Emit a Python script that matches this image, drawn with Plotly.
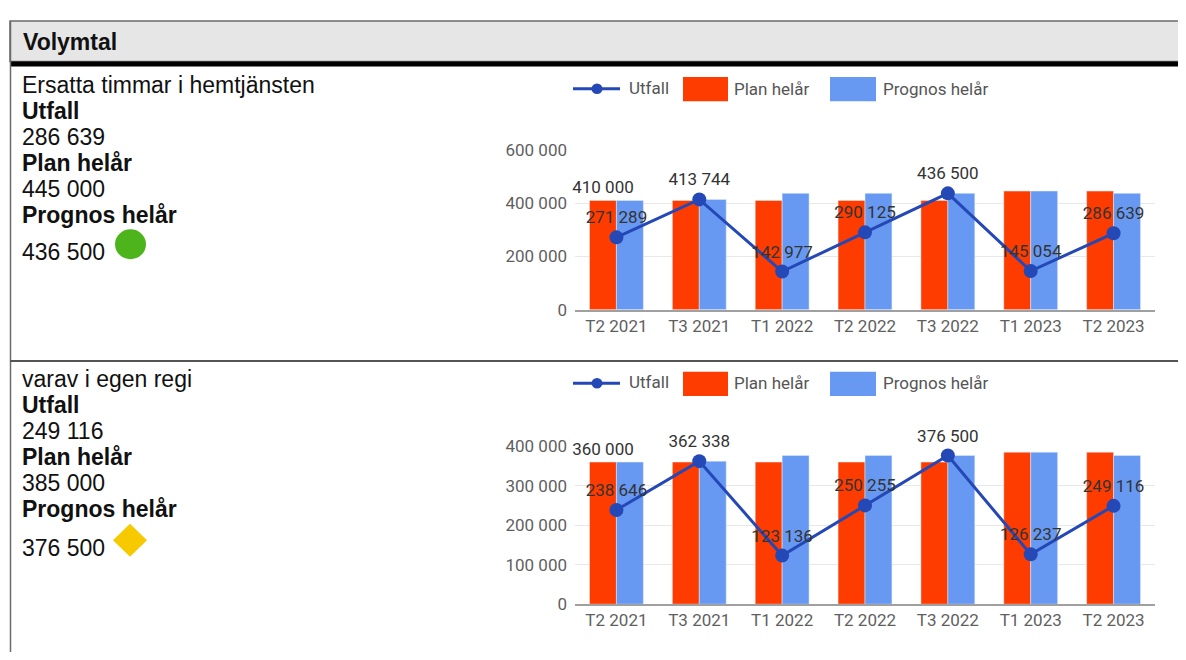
import plotly.graph_objects as go

# Page is 1186x660; the HTML body has an 8px default margin, so the figure is
# sized to fit inside the window (no scrollbars) and all layout positions are
# given in page pixels.
PAGE_W, PAGE_H = 1186, 660
OFF = 8
FW, FH = PAGE_W - OFF, PAGE_H - 2 * OFF

categories = ["T2 2021", "T3 2021", "T1 2022", "T2 2022", "T3 2022", "T1 2023", "T2 2023"]

# Chart 1: Ersatta timmar i hemtjänsten
utfall_1 = [271289, 413744, 142977, 290125, 436500, 145054, 286639]
plan_1 = [410000, 410000, 410000, 410000, 410000, 445000, 445000]
prognos_1 = [410000, 413744, 436500, 436500, 436500, 445000, 436500]

# Chart 2: varav i egen regi
utfall_2 = [238646, 362338, 123136, 250255, 376500, 126237, 249116]
plan_2 = [360000, 360000, 360000, 360000, 360000, 385000, 385000]
prognos_2 = [360000, 362338, 376500, 376500, 376500, 385000, 376500]

series_names = ["Utfall", "Plan helår", "Prognos helår"]

RED = "#ff3c00"
BLUE = "#6799f3"
LINE = "#2448b5"


def fmt(v):
    return f"{v:,}".replace(",", " ")


def px(x):
    return (x - OFF) / FW


def py(y):
    return 1 - (y - OFF) / FH


fig = go.Figure()

panels = [
    dict(utfall=utfall_1, plan=plan_1, prognos=prognos_1, xa="x", ya="y"),
    dict(utfall=utfall_2, plan=plan_2, prognos=prognos_2, xa="x2", ya="y2"),
]

label_font = dict(family="Roboto", size=17, color="#333333")

for p in panels:
    plan_text = [fmt(p["plan"][0])] + [""] * (len(categories) - 1)
    fig.add_trace(go.Bar(
        x=categories, y=p["plan"], name=series_names[1], marker_color=RED,
        text=plan_text, textposition="outside", constraintext="none", cliponaxis=False,
        textfont=label_font,
        xaxis=p["xa"], yaxis=p["ya"], showlegend=False, hoverinfo="skip"))
    fig.add_trace(go.Bar(
        x=categories, y=p["prognos"], name=series_names[2], marker_color=BLUE,
        xaxis=p["xa"], yaxis=p["ya"], showlegend=False))
    fig.add_trace(go.Scatter(
        x=categories, y=p["utfall"], name=series_names[0], mode="lines+markers+text",
        line=dict(color=LINE, width=3), marker=dict(color=LINE, size=14),
        text=[fmt(v) for v in p["utfall"]], textposition="top center",
        textfont=label_font, cliponaxis=False,
        xaxis=p["xa"], yaxis=p["ya"], showlegend=False))

axis_font = dict(family="Roboto", size=17, color="#5f5f5f")
xdom = [px(575), px(1155)]
fig.update_layout(
    width=FW, height=FH, margin=dict(l=0, r=0, t=0, b=0),
    paper_bgcolor="white", plot_bgcolor="white",
    separators=", ", barmode="group", bargap=0.35, bargroupgap=0,
    xaxis=dict(domain=xdom, anchor="y", tickfont=axis_font, showline=True,
               linecolor="#a0a0a0", linewidth=1.5, ticks="", showgrid=False),
    yaxis=dict(domain=[py(309), py(144)], anchor="x", range=[0, 600000], dtick=200000,
               tickformat=",d", tickfont=axis_font, gridcolor="#e8e8e8", zeroline=False,
               ticklabelstandoff=7),
    xaxis2=dict(domain=xdom, anchor="y2", tickfont=axis_font, showline=True,
                linecolor="#a0a0a0", linewidth=1.5, ticks="", showgrid=False),
    yaxis2=dict(domain=[py(613), py(450)], anchor="x2", range=[0, 400000], dtick=100000,
                tickformat=",d", tickfont=axis_font, gridcolor="#e8e8e8", zeroline=False,
                ticklabelstandoff=7),
)

shapes = []
annotations = []
text_font = dict(family="Liberation Sans", size=23, color="#111111")

# Frame and header
shapes.append(dict(type="rect", xref="paper", yref="paper", x0=px(10), x1=px(1200),
                   y0=py(53), y1=py(11), fillcolor="#e6e6e6", line=dict(color="#6b6b6b", width=1.5)))
shapes.append(dict(type="rect", xref="paper", yref="paper", x0=px(10), x1=px(1200),
                   y0=py(58), y1=py(53), fillcolor="#000000", line=dict(width=0)))
shapes.append(dict(type="line", xref="paper", yref="paper", x0=px(10.5), x1=px(10.5),
                   y0=py(11), y1=py(665), line=dict(color="#6b6b6b", width=1.5)))
shapes.append(dict(type="line", xref="paper", yref="paper", x0=px(10), x1=px(1200),
                   y0=py(362), y1=py(362), line=dict(color="#555555", width=2)))

annotations.append(dict(xref="paper", yref="paper", x=px(21), y=py(33), text="<b>Volymtal</b>",
                        showarrow=False, xanchor="left", yanchor="middle", font=text_font))

left_texts = [
    (77, ["Ersatta timmar i hemtjänsten", "<b>Utfall</b>", fmt(286639), "<b>Plan helår</b>",
          fmt(445000), "<b>Prognos helår</b>"], 250, fmt(436500)),
    (381, ["varav i egen regi", "<b>Utfall</b>", fmt(249116), "<b>Plan helår</b>",
           fmt(385000), "<b>Prognos helår</b>"], 555, fmt(376500)),
]
for y0, lines, ylast, last in left_texts:
    for i, t in enumerate(lines):
        annotations.append(dict(xref="paper", yref="paper", x=px(20), y=py(y0 + i * 26.8), text=t,
                                showarrow=False, xanchor="left", yanchor="middle", font=text_font))
    annotations.append(dict(xref="paper", yref="paper", x=px(20), y=py(ylast), text=last,
                            showarrow=False, xanchor="left", yanchor="middle", font=text_font))

# Status indicators
shapes.append(dict(type="circle", xref="paper", yref="paper", x0=px(115), x1=px(146),
                   y0=py(257), y1=py(226), fillcolor="#4db51b", line=dict(width=0)))
shapes.append(dict(type="path", xref="paper", yref="paper",
                   path=f"M {px(130)},{py(530)} L {px(147)},{py(547)} L {px(130)},{py(564)} L {px(113)},{py(547)} Z",
                   fillcolor="#f7c900", line=dict(width=0)))

# Legends
legend_font = dict(family="Roboto", size=17, color="#555555")
for ly in (81, 385):
    shapes.append(dict(type="line", xref="paper", yref="paper", x0=px(573), x1=px(620),
                       y0=py(ly), y1=py(ly), line=dict(color=LINE, width=3)))
    shapes.append(dict(type="circle", xref="paper", yref="paper", x0=px(591.5), x1=px(602.5),
                       y0=py(ly + 5.5), y1=py(ly - 5.5), fillcolor=LINE, line=dict(width=0)))
    annotations.append(dict(xref="paper", yref="paper", x=px(627), y=py(ly - 1), text=series_names[0],
                            showarrow=False, xanchor="left", yanchor="middle", font=legend_font))
    shapes.append(dict(type="rect", xref="paper", yref="paper", x0=px(683), x1=px(728),
                       y0=py(ly + 13), y1=py(ly - 12), fillcolor=RED, line=dict(width=0)))
    annotations.append(dict(xref="paper", yref="paper", x=px(732), y=py(ly), text=series_names[1],
                            showarrow=False, xanchor="left", yanchor="middle", font=legend_font))
    shapes.append(dict(type="rect", xref="paper", yref="paper", x0=px(830), x1=px(876),
                       y0=py(ly + 13), y1=py(ly - 12), fillcolor=BLUE, line=dict(width=0)))
    annotations.append(dict(xref="paper", yref="paper", x=px(881), y=py(ly), text=series_names[2],
                            showarrow=False, xanchor="left", yanchor="middle", font=legend_font))

fig.update_layout(shapes=shapes, annotations=annotations)
fig.write_html("out.html")
